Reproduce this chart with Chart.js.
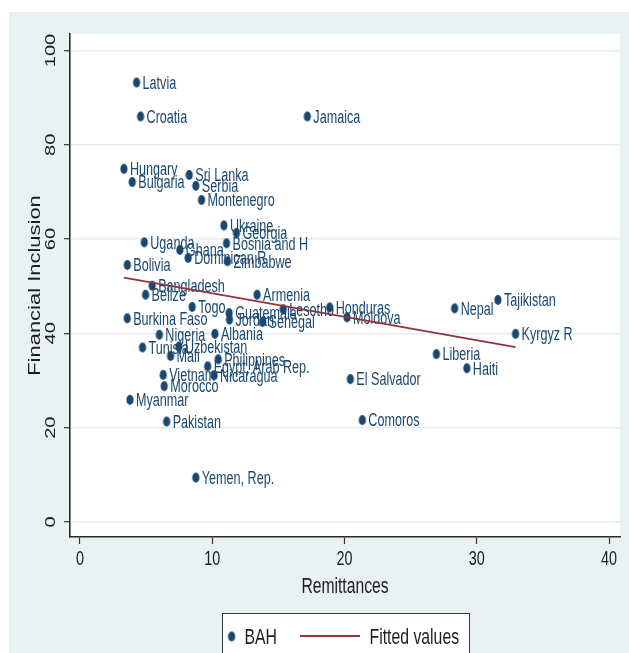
<!DOCTYPE html>
<html>
<head>
<meta charset="utf-8">
<script src="https://cdn.jsdelivr.net/npm/chart.js@4/dist/chart.umd.min.js"></script>
<style>
  html, body { margin: 0; padding: 0; background: #ffffff; overflow: hidden; }
  #wrap { width: 629px; height: 653px; }
</style>
</head>
<body>
<div id="wrap"><canvas id="c" width="629" height="653"></canvas></div>
<script>
// Country labels, remittances (% of GDP) and financial inclusion score
const countries = [
  "Latvia", "Croatia", "Jamaica", "Hungary", "Bulgaria", "Sri Lanka", "Serbia", "Montenegro",
  "Ukraine", "Georgia", "Bosnia and H", "Uganda", "Ghana", "Dominican R", "Zimbabwe", "Bolivia",
  "Bangladesh", "Belize", "Armenia", "Togo", "Guatemala", "Jordan", "Senegal", "Lesotho",
  "Honduras", "Moldova", "Burkina Faso", "Nigeria", "Albania", "Tunisia", "Uzbekistan", "Mali",
  "Philippines", "Egypt, Arab Rep.", "Nicaragua", "Vietnam", "Morocco", "Myanmar", "Pakistan",
  "Yemen, Rep.", "El Salvador", "Comoros", "Liberia", "Haiti", "Nepal", "Tajikistan", "Kyrgyz R"
];
const remittances = [
  4.28, 4.58, 17.19, 3.32, 3.95, 8.26, 8.76, 9.19,
  10.88, 11.83, 11.08, 4.86, 7.55, 8.18, 11.15, 3.58,
  5.46, 4.96, 13.39, 8.48, 11.28, 11.30, 13.80, 15.36,
  18.88, 20.19, 3.57, 6.00, 10.20, 4.73, 7.48, 6.85,
  10.45, 9.65, 10.14, 6.29, 6.37, 3.78, 6.55,
  8.76, 20.44, 21.35, 26.95, 29.25, 28.33, 31.60, 32.93
];
const inclusion = [
  93.2, 86.0, 86.0, 74.9, 72.1, 73.6, 71.3, 68.3,
  62.9, 61.3, 59.1, 59.3, 57.7, 56.0, 55.3, 54.5,
  50.1, 48.2, 48.2, 45.6, 44.3, 42.9, 42.4, 45.1,
  45.5, 43.4, 43.2, 39.7, 39.9, 37.0, 37.2, 35.2,
  34.5, 33.0, 31.1, 31.2, 28.8, 25.9, 21.3,
  9.4, 30.3, 21.6, 35.6, 32.6, 45.3, 47.1, 39.9
];
// Fitted regression line, end points
const fitX = [3.32, 32.93];
const fitY = [51.8, 37.1];
// Axis ticks
const xTicks = [0, 10, 20, 30, 40];
const yTicks = [0, 20, 40, 60, 80, 100];

const NAVY = '#1a476f';
const MAROON = '#90353b';
const INK = '#1e1e1e';
const FONT = '"Liberation Sans", Arial, sans-serif';
const STRETCH = 1.4;   // tall, narrow Stata-style lettering

function ellipseMarker(rx, ry, color) {
  const c = document.createElement('canvas');
  c.width = Math.ceil(rx * 2) + 2;
  c.height = Math.ceil(ry * 2) + 2;
  const g = c.getContext('2d');
  g.fillStyle = color;
  g.beginPath();
  g.ellipse(c.width / 2, c.height / 2, rx, ry, 0, 0, Math.PI * 2);
  g.fill();
  return c;
}
const marker = ellipseMarker(3.6, 5.0, NAVY);

// Draw text stretched along the screen's vertical direction.
// vertical=true rotates the text to read bottom-to-top.
function tallText(ctx, txt, x, y, size, color, align, vertical) {
  ctx.save();
  ctx.font = size + 'px ' + FONT;
  ctx.fillStyle = color;
  ctx.textAlign = align;
  ctx.textBaseline = 'alphabetic';
  ctx.translate(x, y);
  const cap = 0.716 * size;
  if (vertical) {
    ctx.rotate(-Math.PI / 2);
    ctx.scale(STRETCH, 1);
    ctx.fillText(txt, 0, cap / 2);
  } else {
    ctx.scale(1, STRETCH);
    ctx.fillText(txt, 0, cap / 2);
  }
  ctx.restore();
}

const stataPlugin = {
  id: 'stataLook',
  beforeDraw(chart) {
    const ctx = chart.ctx;
    const a = chart.chartArea;
    ctx.save();
    ctx.fillStyle = '#ffffff';
    ctx.fillRect(0, 0, chart.width, chart.height);
    ctx.fillStyle = '#e9f1f3';
    ctx.fillRect(9, 12, chart.width - 9, chart.height - 12);
    ctx.fillStyle = '#ffffff';
    ctx.fillRect(a.left, a.top, a.right - a.left, a.bottom - a.top);
    ctx.restore();
  },
  beforeDatasetsDraw(chart) {
    // marker labels, placed to the right of each point
    const ctx = chart.ctx;
    const meta = chart.getDatasetMeta(1);
    meta.data.forEach((pt, i) => {
      tallText(ctx, countries[i], pt.x + 6, pt.y, 12.6, NAVY, 'left', false);
    });
  },
  afterDraw(chart) {
    const ctx = chart.ctx;
    const xs = chart.scales.x, ys = chart.scales.y;
    const a = chart.chartArea;
    // tick labels
    xTicks.forEach(v => tallText(ctx, String(v), xs.getPixelForValue(v), 558, 14.4, INK, 'center', false));
    yTicks.forEach(v => tallText(ctx, String(v), 50, ys.getPixelForValue(v), 14.4, INK, 'center', true));
    // axis titles
    tallText(ctx, 'Remittances', (a.left + a.right) / 2, 585, 15.7, INK, 'center', false);
    tallText(ctx, 'Financial Inclusion', 34, (a.top + a.bottom) / 2, 15.7, INK, 'center', true);
    // legend box
    ctx.save();
    ctx.fillStyle = '#ffffff';
    ctx.fillRect(222, 613, 248, 50);
    ctx.strokeStyle = '#3a3a3a';
    ctx.lineWidth = 1;
    ctx.strokeRect(222.5, 613.5, 247, 50);
    ctx.drawImage(marker, 231.6 - marker.width / 2, 636.5 - marker.height / 2);
    ctx.strokeStyle = MAROON;
    ctx.lineWidth = 1.8;
    ctx.beginPath();
    ctx.moveTo(300, 636);
    ctx.lineTo(360, 636);
    ctx.stroke();
    ctx.restore();
    tallText(ctx, chart.data.datasets[1].label, 244.5, 636.5, 15.8, INK, 'left', false);
    tallText(ctx, chart.data.datasets[0].label, 369.5, 636.5, 15.8, INK, 'left', false);
  }
};

new Chart(document.getElementById('c'), {
  type: 'scatter',
  data: {
    datasets: [
      {
        type: 'line',
        label: 'Fitted values',
        data: fitX.map((x, i) => ({ x: x, y: fitY[i] })),
        borderColor: MAROON,
        borderWidth: 1.8,
        pointRadius: 0,
        fill: false,
        tension: 0,
        order: 0
      },
      {
        type: 'scatter',
        label: 'BAH',
        data: remittances.map((x, i) => ({ x: x, y: inclusion[i] })),
        pointStyle: marker,
        pointRadius: 4,
        order: 1
      }
    ]
  },
  options: {
    responsive: false,
    animation: false,
    devicePixelRatio: 1,
    layout: { padding: { left: 0, top: 34, right: 9, bottom: 0 } },
    plugins: { legend: { display: false }, tooltip: { enabled: false } },
    scales: {
      x: {
        type: 'linear',
        min: -0.756,
        max: 40.83,
        afterBuildTicks: s => { s.ticks = xTicks.map(v => ({ value: v })); },
        afterFit: s => { s.height = 116; },
        ticks: { display: false },
        grid: { drawOnChartArea: false, drawTicks: true, tickLength: 7, tickColor: '#333333', tickWidth: 1.2 },
        border: { color: '#2a2a2a', width: 1.6 }
      },
      y: {
        type: 'linear',
        min: -3.2,
        max: 103.5,
        afterBuildTicks: s => { s.ticks = yTicks.map(v => ({ value: v })); },
        afterFit: s => { s.width = 70; },
        ticks: { display: false },
        grid: { color: '#e3ecef', lineWidth: 1.4, drawTicks: true, tickLength: 6, tickColor: '#333333', tickWidth: 1.2 },
        border: { color: '#2a2a2a', width: 1.6 }
      }
    }
  },
  plugins: [stataPlugin]
});
</script>
</body>
</html>
